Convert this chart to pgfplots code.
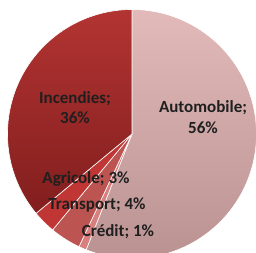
\documentclass[border=0pt]{standalone}
\usepackage{pgfplots}
\pgfplotsset{compat=1.18}
\usepgfplotslibrary{polar}
\usepackage{fontspec}
\setmainfont{Carlito}
\definecolor{autoT}{RGB}{226,186,186}
\definecolor{autoB}{RGB}{186,146,146}
\definecolor{incT}{RGB}{178,52,50}
\definecolor{incB}{RGB}{130,30,30}
\definecolor{credC}{RGB}{216,128,126}
\definecolor{tranC}{RGB}{188,84,82}
\definecolor{agriC}{RGB}{192,54,52}
\begin{document}
\begin{tikzpicture}[x=1pt,y=1pt]
\useasboundingbox (0,0) rectangle (256,253);
\clip (0,0) rectangle (256,253);
\begin{polaraxis}[
  at={(132pt,119pt)}, anchor=origin,
  scale only axis, width=249pt, height=249pt,
  ymin=0, ymax=1, hide axis, clip=false]
% slices: start angle, end angle (degrees, clockwise from top); shares 56, 1, 4, 3, 36 %
\addplot[draw=white, line width=0.6pt, top color=autoT, bottom color=autoB, domain=-111.6:90, samples=120] {1} -- (axis cs:0,0) -- cycle;
\addplot[draw=white, line width=0.6pt, fill=credC, domain=-115.2:-111.6, samples=5] {1} -- (axis cs:0,0) -- cycle;
\addplot[draw=white, line width=0.6pt, fill=tranC, domain=-129.6:-115.2, samples=10] {1} -- (axis cs:0,0) -- cycle;
\addplot[draw=white, line width=0.6pt, fill=agriC, domain=-140.4:-129.6, samples=8] {1} -- (axis cs:0,0) -- cycle;
\addplot[draw=white, line width=0.6pt, top color=incT, bottom color=incB, domain=-270:-140.4, samples=80] {1} -- (axis cs:0,0) -- cycle;
\end{polaraxis}
\begin{scope}[font=\bfseries\fontsize{17}{20.5}\selectfont, text=black!88]
\node[align=center] at (203,136) {Automobile;\\56\%};
\node[align=center] at (75,145.5) {Incendies;\\36\%};
\node at (86,74) {Agricole; 3\%};
\node at (97,48) {Transport; 4\%};
\node at (118,21) {Crédit; 1\%};
\end{scope}
\end{tikzpicture}
\end{document}
